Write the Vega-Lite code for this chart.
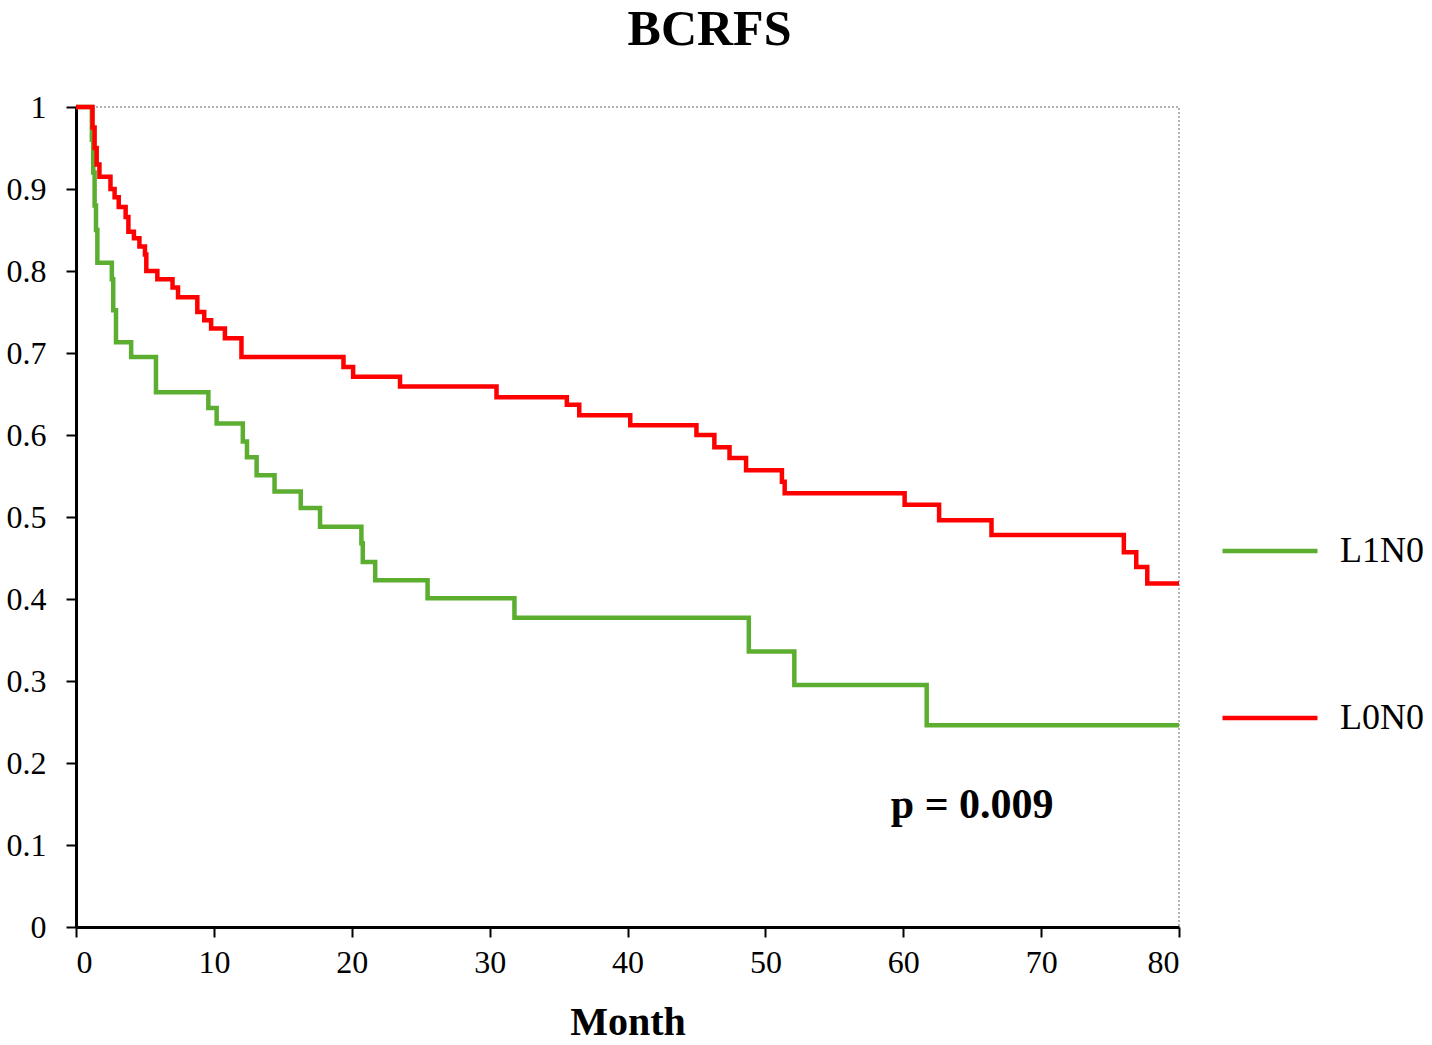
{
  "$schema": "https://vega.github.io/schema/vega-lite/v6.json",
  "autosize": "none",
  "width": 1103,
  "height": 820,
  "padding": {"left": 76, "top": 107, "right": 253, "bottom": 118},
  "background": "white",
  "config": {
    "view": {"stroke": "#999999", "strokeDash": [2, 2], "strokeWidth": 1.5},
    "font": "Liberation Serif"
  },
  "title": {
    "text": "BCRFS",
    "font": "Liberation Serif",
    "fontSize": 50,
    "fontWeight": "bold",
    "color": "black",
    "dx": 82,
    "offset": 36
  },
  "datasets": {
    "km": [
      {"group": "L1N0", "month": 0, "survival": 1.0},
      {"group": "L1N0", "month": 1.15, "survival": 0.96},
      {"group": "L1N0", "month": 1.25, "survival": 0.92},
      {"group": "L1N0", "month": 1.35, "survival": 0.88},
      {"group": "L1N0", "month": 1.45, "survival": 0.85},
      {"group": "L1N0", "month": 1.55, "survival": 0.81},
      {"group": "L1N0", "month": 2.6, "survival": 0.79},
      {"group": "L1N0", "month": 2.7, "survival": 0.752},
      {"group": "L1N0", "month": 2.9, "survival": 0.713},
      {"group": "L1N0", "month": 4.0, "survival": 0.695},
      {"group": "L1N0", "month": 5.8, "survival": 0.652},
      {"group": "L1N0", "month": 9.6, "survival": 0.633},
      {"group": "L1N0", "month": 10.2, "survival": 0.614},
      {"group": "L1N0", "month": 12.1, "survival": 0.592},
      {"group": "L1N0", "month": 12.4, "survival": 0.573},
      {"group": "L1N0", "month": 13.1, "survival": 0.551},
      {"group": "L1N0", "month": 14.4, "survival": 0.531},
      {"group": "L1N0", "month": 16.3, "survival": 0.511},
      {"group": "L1N0", "month": 17.7, "survival": 0.488},
      {"group": "L1N0", "month": 20.7, "survival": 0.468},
      {"group": "L1N0", "month": 20.8, "survival": 0.445},
      {"group": "L1N0", "month": 21.7, "survival": 0.423},
      {"group": "L1N0", "month": 25.5, "survival": 0.401},
      {"group": "L1N0", "month": 31.8, "survival": 0.377},
      {"group": "L1N0", "month": 48.8, "survival": 0.336},
      {"group": "L1N0", "month": 52.1, "survival": 0.295},
      {"group": "L1N0", "month": 61.7, "survival": 0.246},
      {"group": "L1N0", "month": 80, "survival": 0.246},
      {"group": "L0N0", "month": 0, "survival": 1.0},
      {"group": "L0N0", "month": 1.2, "survival": 0.975},
      {"group": "L0N0", "month": 1.35, "survival": 0.95},
      {"group": "L0N0", "month": 1.5, "survival": 0.93},
      {"group": "L0N0", "month": 1.7, "survival": 0.915},
      {"group": "L0N0", "month": 2.5, "survival": 0.9},
      {"group": "L0N0", "month": 2.8, "survival": 0.89},
      {"group": "L0N0", "month": 3.1, "survival": 0.878},
      {"group": "L0N0", "month": 3.6, "survival": 0.866},
      {"group": "L0N0", "month": 3.8, "survival": 0.848},
      {"group": "L0N0", "month": 4.2, "survival": 0.84},
      {"group": "L0N0", "month": 4.6, "survival": 0.83},
      {"group": "L0N0", "month": 5.0, "survival": 0.82},
      {"group": "L0N0", "month": 5.1, "survival": 0.8},
      {"group": "L0N0", "month": 5.9, "survival": 0.79},
      {"group": "L0N0", "month": 7.0, "survival": 0.78},
      {"group": "L0N0", "month": 7.4, "survival": 0.768},
      {"group": "L0N0", "month": 8.8, "survival": 0.75},
      {"group": "L0N0", "month": 9.3, "survival": 0.74},
      {"group": "L0N0", "month": 9.8, "survival": 0.73},
      {"group": "L0N0", "month": 10.8, "survival": 0.718},
      {"group": "L0N0", "month": 12.0, "survival": 0.695},
      {"group": "L0N0", "month": 19.4, "survival": 0.683},
      {"group": "L0N0", "month": 20.1, "survival": 0.671},
      {"group": "L0N0", "month": 23.5, "survival": 0.659},
      {"group": "L0N0", "month": 30.5, "survival": 0.646},
      {"group": "L0N0", "month": 35.6, "survival": 0.637},
      {"group": "L0N0", "month": 36.5, "survival": 0.624},
      {"group": "L0N0", "month": 40.2, "survival": 0.612},
      {"group": "L0N0", "month": 45.0, "survival": 0.6},
      {"group": "L0N0", "month": 46.3, "survival": 0.585},
      {"group": "L0N0", "month": 47.4, "survival": 0.572},
      {"group": "L0N0", "month": 48.6, "survival": 0.557},
      {"group": "L0N0", "month": 51.2, "survival": 0.543},
      {"group": "L0N0", "month": 51.4, "survival": 0.529},
      {"group": "L0N0", "month": 60.1, "survival": 0.515},
      {"group": "L0N0", "month": 62.6, "survival": 0.496},
      {"group": "L0N0", "month": 66.4, "survival": 0.478},
      {"group": "L0N0", "month": 76.0, "survival": 0.457},
      {"group": "L0N0", "month": 76.9, "survival": 0.439},
      {"group": "L0N0", "month": 77.7, "survival": 0.419},
      {"group": "L0N0", "month": 80, "survival": 0.419}
    ],
    "note": [{"label": "p = 0.009"}]
  },
  "layer": [
    {
      "data": {"name": "km"},
      "mark": {"type": "line", "interpolate": "step-after", "strokeWidth": 4.5},
      "encoding": {
        "x": {
          "field": "month",
          "type": "quantitative",
          "scale": {"domain": [0, 80], "nice": false},
          "axis": {
            "title": "Month",
            "values": [0, 10, 20, 30, 40, 50, 60, 70, 80],
            "grid": false,
            "domainColor": "black",
            "domainWidth": 3,
            "tickColor": "black",
            "tickWidth": 2,
            "tickSize": 10,
            "labelFont": "Liberation Serif",
            "labelFontSize": 32,
            "labelColor": "black",
            "labelPadding": 10,
            "titleFont": "Liberation Serif",
            "titleFontSize": 40,
            "titleFontWeight": "bold",
            "titleColor": "black",
            "titlePadding": 24
          }
        },
        "y": {
          "field": "survival",
          "type": "quantitative",
          "scale": {"domain": [0, 1], "nice": false},
          "axis": {
            "title": null,
            "values": [0, 0.1, 0.2, 0.3, 0.4, 0.5, 0.6, 0.7, 0.8, 0.9, 1],
            "format": "~g",
            "grid": false,
            "domainColor": "black",
            "domainWidth": 3,
            "tickColor": "black",
            "tickWidth": 2,
            "tickSize": 10,
            "labelFont": "Liberation Serif",
            "labelFontSize": 32,
            "labelColor": "black",
            "labelPadding": 20
          }
        },
        "color": {
          "field": "group",
          "type": "nominal",
          "scale": {"domain": ["L1N0", "L0N0"], "range": ["#5cae30", "#ff0000"]},
          "legend": {
            "title": null,
            "orient": "none",
            "legendX": 1144,
            "legendY": 394,
            "padding": 0,
            "symbolType": "stroke",
            "symbolSize": 9025,
            "symbolStrokeWidth": 4.5,
            "labelFont": "Liberation Serif",
            "labelFontSize": 36,
            "labelColor": "black",
            "labelOffset": 20,
            "rowPadding": 99
          }
        },
        "order": {"field": "month", "type": "quantitative"}
      }
    },
    {
      "data": {"name": "note"},
      "mark": {"type": "text", "font": "Liberation Serif", "fontSize": 42, "fontWeight": "bold", "fill": "black", "align": "center", "baseline": "middle"},
      "encoding": {
        "x": {"datum": 65, "type": "quantitative"},
        "y": {"datum": 0.149, "type": "quantitative"},
        "text": {"field": "label", "type": "nominal"}
      }
    }
  ]
}
